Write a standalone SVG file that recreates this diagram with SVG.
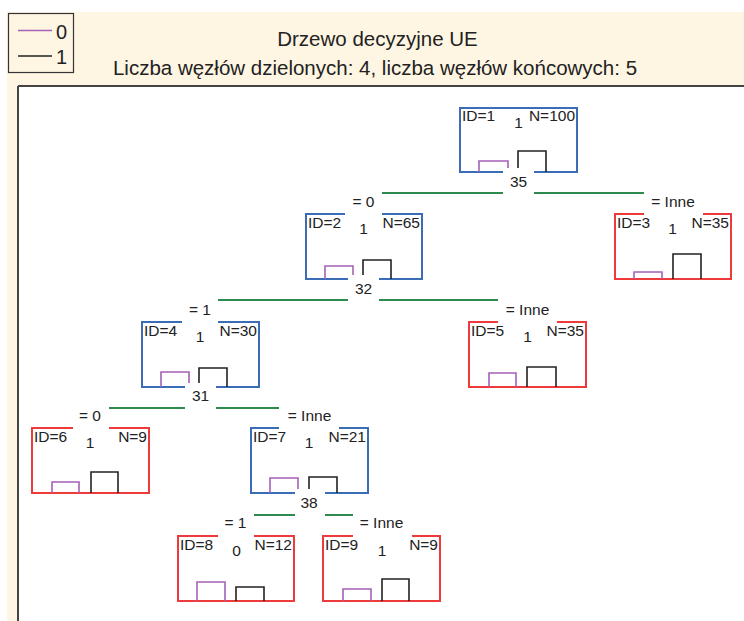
<svg xmlns="http://www.w3.org/2000/svg" width="744" height="621" viewBox="0 0 744 621">
<style>
text{font-family:"Liberation Sans",Arial,sans-serif;fill:#222}
.t{font-size:20.5px;text-anchor:middle}
.n{font-size:15.5px}
.c{font-size:15.5px;text-anchor:middle}
.r{font-size:15.5px;text-anchor:end}
.blue{fill:none;stroke:#3B6DB6;stroke-width:2}
.red{fill:none;stroke:#EE3A3A;stroke-width:2}
.p{fill:none;stroke:#A660B6;stroke-width:1.6}
.k{fill:none;stroke:#222;stroke-width:1.6}
.g{stroke:#2E8B4E;stroke-width:2}
.bg{fill:#fff}
</style>
<rect x="7" y="12" width="737" height="609" fill="#FEF6E3"/>
<rect x="8.5" y="13.5" width="65" height="59" fill="#FEF6E3" stroke="#333" stroke-width="1.2"/>
<line x1="18" y1="30.5" x2="52" y2="30.5" stroke="#A660B6" stroke-width="1.5"/>
<line x1="18" y1="56" x2="52" y2="56" stroke="#222" stroke-width="1.5"/>
<text x="56" y="39" font-size="20">0</text>
<text x="56" y="64" font-size="20">1</text>
<text class="t" x="377.5" y="46">Drzewo decyzyjne UE</text>
<text class="t" x="375" y="75">Liczba węzłów dzielonych: 4, liczba węzłów końcowych: 5</text>
<rect x="18" y="86" width="726" height="535" fill="#fff"/>
<line x1="18" y1="86" x2="744" y2="86" stroke="#444" stroke-width="2"/>
<line x1="18" y1="86" x2="18" y2="621" stroke="#444" stroke-width="2"/>

<g id="node1">
<rect class="blue" x="460" y="108" width="117" height="64"/>
<path class="p" d="M479 172V161H508V172"/>
<path class="k" d="M518 172V151H546V172"/>
<text class="n" x="462" y="121">ID=1</text>
<text class="c" x="518.5" y="128">1</text>
<text class="r" x="575" y="121">N=100</text>
</g>
<g id="node2">
<rect class="blue" x="306" y="214" width="116" height="65"/>
<path class="p" d="M325 279V266H353V279"/>
<path class="k" d="M363 279V260H391V279"/>
<text class="n" x="308" y="228">ID=2</text>
<text class="c" x="363.5" y="234">1</text>
<text class="r" x="420" y="228">N=65</text>
</g>
<g id="node3">
<rect class="red" x="615" y="214" width="116" height="65"/>
<path class="p" d="M634 279V272H662V279"/>
<path class="k" d="M673 279V254H701V279"/>
<text class="n" x="617" y="228">ID=3</text>
<text class="c" x="672.5" y="234">1</text>
<text class="r" x="729" y="228">N=35</text>
</g>
<g id="node4">
<rect class="blue" x="142" y="322" width="117" height="65"/>
<path class="p" d="M161 387V372H189V387"/>
<path class="k" d="M199 387V368H227V387"/>
<text class="n" x="144" y="336">ID=4</text>
<text class="c" x="200" y="342">1</text>
<text class="r" x="257" y="336">N=30</text>
</g>
<g id="node5">
<rect class="red" x="469" y="322" width="117" height="65"/>
<path class="p" d="M489 387V373H516V387"/>
<path class="k" d="M527 387V367H556V387"/>
<text class="n" x="471" y="336">ID=5</text>
<text class="c" x="527.5" y="342">1</text>
<text class="r" x="584" y="336">N=35</text>
</g>
<g id="node6">
<rect class="red" x="32" y="428" width="117" height="65"/>
<path class="p" d="M52 493V482H79V493"/>
<path class="k" d="M91 493V472H118V493"/>
<text class="n" x="34" y="442">ID=6</text>
<text class="c" x="90" y="448">1</text>
<text class="r" x="147" y="442">N=9</text>
</g>
<g id="node7">
<rect class="blue" x="251" y="428" width="117" height="65"/>
<path class="p" d="M270 493V478H298V493"/>
<path class="k" d="M309 493V477H337V493"/>
<text class="n" x="253" y="442">ID=7</text>
<text class="c" x="309" y="448">1</text>
<text class="r" x="366" y="442">N=21</text>
</g>
<g id="node8">
<rect class="red" x="178" y="536" width="116" height="65"/>
<path class="p" d="M197 601V582H225V601"/>
<path class="k" d="M236 601V587H264V601"/>
<text class="n" x="180" y="550">ID=8</text>
<text class="c" x="236.5" y="556">0</text>
<text class="r" x="292" y="550">N=12</text>
</g>
<g id="node9">
<rect class="red" x="323" y="536" width="117" height="65"/>
<path class="p" d="M343 601V589H371V601"/>
<path class="k" d="M382 601V579H409V601"/>
<text class="n" x="325" y="550">ID=9</text>
<text class="c" x="382" y="556">1</text>
<text class="r" x="438" y="550">N=9</text>
</g>

<g id="connectors">
<line class="g" x1="382" y1="193" x2="503" y2="193"/>
<line class="g" x1="534" y1="193" x2="644" y2="193"/>
<rect class="bg" x="503" y="168" width="31" height="28"/>
<text class="c" x="518.5" y="187">35</text>
<rect class="bg" x="345" y="193" width="37" height="24"/>
<text class="c" x="363.5" y="207">= 0</text>
<rect class="bg" x="644" y="194" width="59" height="23"/>
<text class="c" x="673" y="207">= Inne</text>

<line class="g" x1="218" y1="300" x2="348" y2="300"/>
<line class="g" x1="379" y1="300" x2="498" y2="300"/>
<rect class="bg" x="348" y="275" width="31" height="28"/>
<text class="c" x="363.5" y="294">32</text>
<rect class="bg" x="182" y="301" width="36" height="24"/>
<text class="c" x="200" y="315">= 1</text>
<rect class="bg" x="498" y="301" width="59" height="24"/>
<text class="c" x="527.5" y="315">= Inne</text>

<line class="g" x1="109" y1="408" x2="185" y2="408"/>
<line class="g" x1="216" y1="408" x2="279" y2="408"/>
<rect class="bg" x="185" y="383" width="31" height="28"/>
<text class="c" x="200.5" y="401">31</text>
<rect class="bg" x="73" y="409" width="36" height="22"/>
<text class="c" x="90" y="421">= 0</text>
<rect class="bg" x="279" y="409" width="60" height="22"/>
<text class="c" x="309.5" y="421">= Inne</text>

<line class="g" x1="254" y1="515" x2="295" y2="515"/>
<line class="g" x1="325" y1="515" x2="353" y2="515"/>
<rect class="bg" x="295" y="489" width="30" height="29"/>
<text class="c" x="309" y="508">38</text>
<rect class="bg" x="218" y="516" width="36" height="23"/>
<text class="c" x="235.5" y="528">= 1</text>
<rect class="bg" x="353" y="516" width="59" height="23"/>
<text class="c" x="381.5" y="528">= Inne</text>
</g>
</svg>
